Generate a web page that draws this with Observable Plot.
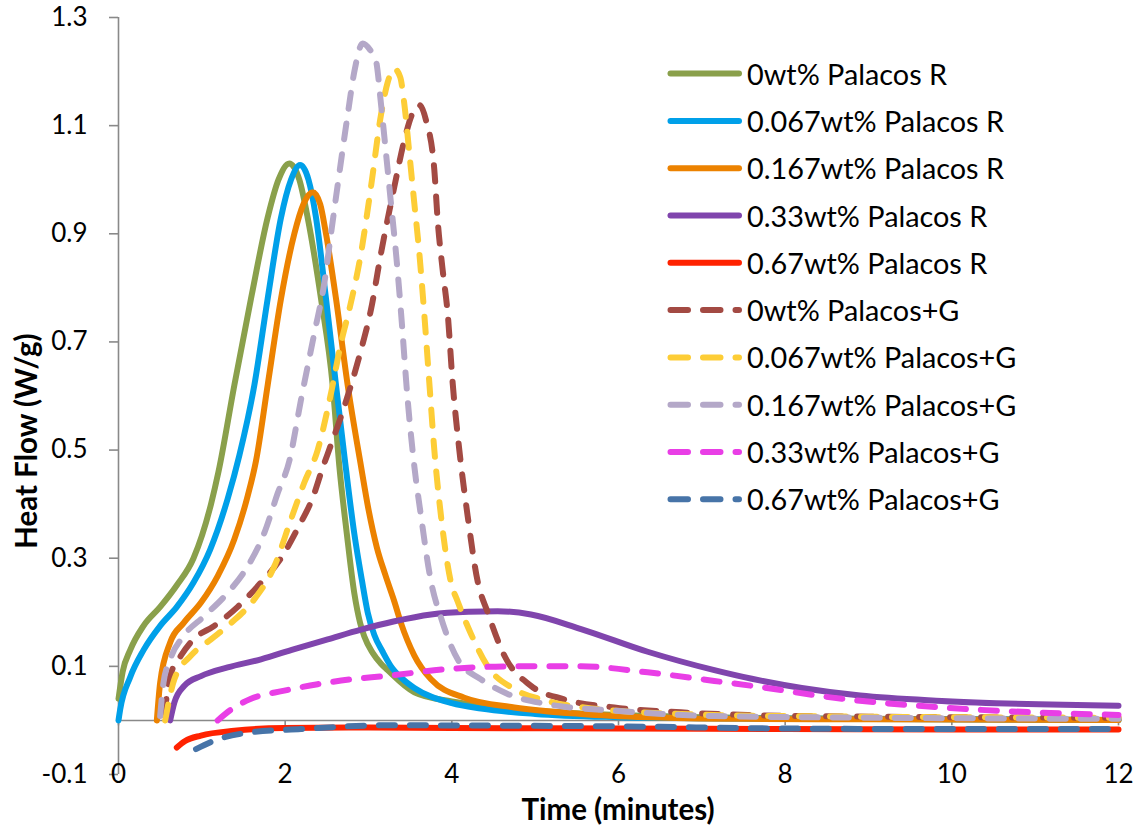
<!DOCTYPE html>
<html>
<head>
<meta charset="utf-8">
<script src="https://cdn.jsdelivr.net/npm/d3@7"></script>
<script src="https://cdn.jsdelivr.net/npm/@observablehq/plot@0.6"></script>
<style>
  html, body { margin: 0; padding: 0; background: #fff; }
  #chart { width: 1145px; height: 828px; }
</style>
</head>
<body>
<div id="chart"></div>
<script>
// ---- tick labels ----
const xTicks = [0, 2, 4, 6, 8, 10, 12];
const yTicks = [-0.1, 0.1, 0.3, 0.5, 0.7, 0.9, 1.1, 1.3];

// ---- series names ----
const names = [
  "0wt% Palacos R", "0.067wt% Palacos R", "0.167wt% Palacos R", "0.33wt% Palacos R", "0.67wt% Palacos R",
  "0wt% Palacos+G", "0.067wt% Palacos+G", "0.167wt% Palacos+G", "0.33wt% Palacos+G", "0.67wt% Palacos+G"
];

// ---- series values (time in minutes, heat flow W/g) ----
const r0x = [0, 0.05, 0.14, 0.3, 0.5, 0.7, 0.9, 1.11, 1.2, 1.39, 1.59, 1.79, 1.92, 2.05, 2.17, 2.27, 2.43, 2.57, 2.65, 2.74, 2.83, 2.9, 2.95, 3.05, 3.15, 3.23, 3.55, 4.0, 4.5, 5, 6, 7, 8, 10, 12];
const r0y = [0.04, 0.09, 0.13, 0.175, 0.21, 0.25, 0.30, 0.40, 0.46, 0.62, 0.78, 0.93, 1.0, 1.03, 1.0, 0.93, 0.78, 0.62, 0.47, 0.345, 0.235, 0.18, 0.155, 0.125, 0.105, 0.093, 0.052, 0.035, 0.025, 0.018, 0.01, 0.006, 0.004, 0.002, 0.001];

const r067x = [0, 0.02, 0.14, 0.3, 0.5, 0.7, 0.9, 1.1, 1.31, 1.45, 1.63, 1.79, 1.95, 2.07, 2.18, 2.28, 2.37, 2.49, 2.61, 2.71, 2.83, 2.92, 2.99, 3.07, 3.17, 3.27, 3.4, 3.55, 4.0, 4.35, 5, 6, 7, 8, 10, 12];
const r067y = [0, 0.02, 0.08, 0.13, 0.175, 0.21, 0.255, 0.316, 0.41, 0.49, 0.62, 0.78, 0.93, 1.0, 1.027, 1.0, 0.93, 0.78, 0.62, 0.49, 0.345, 0.26, 0.2, 0.158, 0.127, 0.10, 0.078, 0.06, 0.032, 0.022, 0.012, 0.006, 0.004, 0.003, 0.002, 0.001];

const r167x = [0.46, 0.5, 0.62, 0.78, 0.99, 1.19, 1.39, 1.55, 1.65, 1.79, 1.95, 2.11, 2.22, 2.33, 2.42, 2.49, 2.61, 2.75, 2.91, 3.0, 3.1, 3.2, 3.31, 3.39, 3.55, 3.75, 4.15, 4.75, 5.55, 6.35, 7.5, 9, 12];
const r167y = [0.0, 0.07, 0.144, 0.18, 0.218, 0.267, 0.335, 0.415, 0.48, 0.62, 0.78, 0.90, 0.955, 0.977, 0.955, 0.90, 0.78, 0.62, 0.47, 0.39, 0.32, 0.27, 0.22, 0.18, 0.12, 0.076, 0.042, 0.024, 0.012, 0.006, 0.003, 0.002, 0.001];

const r33x = [0.62, 0.67, 0.79, 0.99, 1.31, 1.71, 2.11, 2.51, 2.91, 3.3, 3.75, 4.2, 4.55, 4.95, 5.55, 6.35, 7.15, 7.6, 8.2, 8.9, 9.88, 12];
const r33y = [0.0, 0.033, 0.064, 0.082, 0.098, 0.113, 0.132, 0.15, 0.168, 0.183, 0.196, 0.201, 0.202, 0.196, 0.169, 0.127, 0.093, 0.077, 0.06, 0.046, 0.036, 0.027];

const r67x = [0.7, 0.8, 0.99, 1.39, 1.99, 3, 4, 6, 8, 10, 12];
const r67y = [-0.05, -0.038, -0.028, -0.019, -0.014, -0.013, -0.014, -0.015, -0.016, -0.017, -0.017];

const g0x = [0.55, 0.62, 0.75, 0.9, 1.15, 1.43, 1.71, 1.95, 2.15, 2.35, 2.43, 2.55, 2.67, 2.91, 3.03, 3.15, 3.31, 3.43, 3.52, 3.61, 3.69, 3.79, 3.83, 3.89, 3.95, 4.01, 4.09, 4.19, 4.31, 4.43, 4.63, 4.95, 5.35, 5.95, 6.75, 7.55, 9, 12];
const g0y = [0.01, 0.082, 0.12, 0.15, 0.175, 0.21, 0.255, 0.30, 0.355, 0.42, 0.458, 0.51, 0.562, 0.685, 0.76, 0.864, 0.987, 1.073, 1.12, 1.138, 1.11, 1.018, 0.925, 0.833, 0.753, 0.624, 0.50, 0.378, 0.257, 0.20, 0.12, 0.064, 0.039, 0.024, 0.015, 0.01, 0.007, 0.005];

const g067x = [0.56, 0.67, 0.87, 1.11, 1.35, 1.63, 1.87, 2.07, 2.23, 2.39, 2.55, 2.67, 2.77, 2.91, 3.03, 3.15, 3.23, 3.31, 3.38, 3.43, 3.49, 3.55, 3.61, 3.67, 3.73, 3.79, 3.87, 3.99, 4.07, 4.23, 4.43, 4.75, 5.15, 5.75, 6.75, 8, 12];
const g067y = [0.0, 0.076, 0.12, 0.15, 0.18, 0.224, 0.285, 0.372, 0.44, 0.50, 0.605, 0.698, 0.76, 0.864, 0.987, 1.12, 1.18, 1.205, 1.19, 1.14, 1.049, 0.956, 0.864, 0.75, 0.624, 0.50, 0.378, 0.255, 0.22, 0.16, 0.10, 0.058, 0.036, 0.021, 0.012, 0.008, 0.005];

const g167x = [0.5, 0.54, 0.62, 0.78, 1.03, 1.31, 1.55, 1.75, 1.91, 2.05, 2.19, 2.35, 2.47, 2.55, 2.63, 2.75, 2.83, 2.93, 3.02, 3.09, 3.15, 3.21, 3.27, 3.33, 3.39, 3.47, 3.55, 3.63, 3.75, 3.87, 4.07, 4.35, 4.67, 5.15, 5.95, 7.15, 9, 12];
const g167y = [0.008, 0.07, 0.113, 0.156, 0.193, 0.236, 0.285, 0.347, 0.42, 0.48, 0.593, 0.716, 0.809, 0.90, 0.99, 1.12, 1.20, 1.252, 1.24, 1.22, 1.14, 1.049, 0.956, 0.864, 0.755, 0.593, 0.47, 0.378, 0.257, 0.19, 0.113, 0.076, 0.049, 0.03, 0.018, 0.008, 0.005, 0.003];

const g33x = [1.19, 1.35, 1.59, 1.99, 2.39, 2.79, 3.2, 3.95, 4.75, 5.55, 6.35, 7.15, 7.6, 8.68, 9.88, 12];
const g33y = [0.0, 0.02, 0.04, 0.055, 0.067, 0.076, 0.082, 0.095, 0.10, 0.10, 0.089, 0.073, 0.064, 0.04, 0.024, 0.01];

const g67x = [0.93, 1.19, 1.59, 2.19, 3.19, 5, 6, 8, 10, 12];
const g67y = [-0.053, -0.035, -0.022, -0.016, -0.009, -0.01, -0.011, -0.015, -0.016, -0.016];

const seriesX = [r0x, r067x, r167x, r33x, r67x, g0x, g067x, g167x, g33x, g67x];
const seriesY = [r0y, r067y, r167y, r33y, r67y, g0y, g067y, g167y, g33y, g67y];

// ---- styles ----
const colors = ["#8AA04B", "#00A0E9", "#EC8200", "#8045AD", "#FF2200", "#A34A43", "#FDCD36", "#B4A8C8", "#E93EE6", "#4774A8"];
const dashed = [false, false, false, false, false, true, true, true, true, true];
const DASH = "16,15";
const LW = 6;
const GRAY = "#898989";
const FONT = "Lato, 'Open Sans', sans-serif";

const lineMarks = names.map((name, i) => {
  const rows = seriesX[i].map((x, j) => ({x, y: seriesY[i][j]}));
  return Plot.line(rows, {
    x: "x", y: "y",
    stroke: colors[i],
    strokeWidth: LW,
    strokeDasharray: dashed[i] ? DASH : null,
    strokeLinecap: "round",
    strokeLinejoin: "round",
    curve: "monotone-x"
  });
});

const chart = Plot.plot({
  width: 1145,
  height: 828,
  marginLeft: 118,
  marginRight: 27,
  marginTop: 17,
  marginBottom: 54,
  style: {fontFamily: FONT, background: "#fff", overflow: "visible"},
  x: {domain: [0, 12], axis: null},
  y: {domain: [-0.1, 1.3], axis: null},
  marks: [
    Plot.ruleY([0], {stroke: GRAY, strokeWidth: 1.6}),
    Plot.ruleX(xTicks, {x: d => d, y1: 0, y2: -0.01, stroke: GRAY, strokeWidth: 1.6}),
    Plot.ruleX([0], {stroke: GRAY, strokeWidth: 1.6}),
    Plot.axisY(yTicks, {
      tickSize: 9, tickPadding: 22, stroke: GRAY, strokeWidth: 1.6,
      fill: "#000", fontSize: 26, label: null,
      tickFormat: d => d.toFixed(1)
    }),
    Plot.text(xTicks, {x: d => d, y: -0.1, text: d => String(d), fontSize: 26, fill: "#000", lineAnchor: "middle", textAnchor: "middle"}),
    ...lineMarks
  ]
});

document.getElementById("chart").appendChild(chart);

// ---- axis titles and legend ----
const svg = d3.select(chart);
svg.append("text")
  .attr("x", 618).attr("y", 808)
  .attr("text-anchor", "middle").attr("dominant-baseline", "central")
  .attr("font-family", FONT).attr("font-weight", "bold").attr("font-size", 29.5)
  .attr("fill", "#000")
  .text("Time (minutes)");
svg.append("text")
  .attr("transform", "translate(25,441) rotate(-90)")
  .attr("text-anchor", "middle").attr("dominant-baseline", "central")
  .attr("font-family", FONT).attr("font-weight", "bold").attr("font-size", 29.5)
  .attr("fill", "#000")
  .text("Heat Flow (W/g)");

const leg = svg.append("g").attr("text-anchor", "start");
names.forEach((name, i) => {
  const y = 73.6 + 47.3 * i;
  leg.append("line")
    .attr("x1", 670.5).attr("x2", 739)
    .attr("y1", y).attr("y2", y)
    .attr("stroke", colors[i]).attr("stroke-width", LW)
    .attr("stroke-linecap", "round")
    .attr("stroke-dasharray", dashed[i] ? "17.5,15" : null);
  leg.append("text")
    .attr("x", 747).attr("y", y)
    .attr("text-anchor", "start")
    .attr("dominant-baseline", "central")
    .attr("font-family", FONT).attr("font-size", 28.8).attr("fill", "#000")
    .text(name);
});
</script>
</body>
</html>
